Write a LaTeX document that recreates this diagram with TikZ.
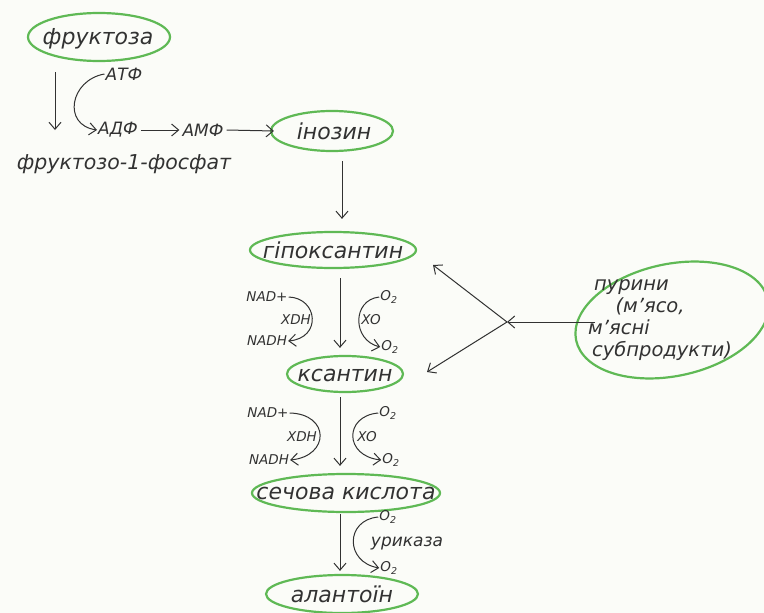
\documentclass[tikz,border=0pt]{standalone}
\usepackage{fontspec}
\setmainfont{DejaVu Sans}
\usetikzlibrary{shapes.geometric,arrows.meta}
\definecolor{ink}{RGB}{50,50,50}
\definecolor{hl}{RGB}{95,185,85}
\definecolor{paper}{RGB}{251,252,248}
\begin{document}
\begin{tikzpicture}[x=1pt,y=-1pt,
  hlring/.style={ellipse,draw=hl,line width=2.2pt,inner sep=0pt},
  hltxt/.style={text=ink,inner sep=0pt,font=\itshape\fontsize{22}{24}\selectfont},
  lbl/.style={text=ink,inner sep=1pt,font=\itshape\fontsize{17}{19}\selectfont},
  sml/.style={text=ink,inner sep=1pt,font=\itshape\fontsize{13.5}{15}\selectfont},
  arr/.style={draw=ink,line width=1pt,-{Straight Barb[length=7pt,width=12pt]}}]
\fill[paper] (0,0) rectangle (764,613);
\useasboundingbox (0,0) rectangle (764,613);

% highlighted nodes: ring + text
\node[hlring,minimum width=142pt,minimum height=48pt] (fre) at (99,37) {};
\node[hltxt] (fr) at (98,39) {фруктоза};
\node[hlring,minimum width=122pt,minimum height=40pt] (inoe) at (332,131) {};
\node[hltxt] (ino) at (334,131) {інозин};
\node[hlring,minimum width=166pt,minimum height=36pt] (hypoe) at (333,250) {};
\node[hltxt] (hypo) at (333,250) {гіпоксантин};
\node[hlring,minimum width=116pt,minimum height=36pt] (kse) at (345,374) {};
\node[hltxt] (ks) at (345,375) {ксантин};
\node[hlring,minimum width=188pt,minimum height=38pt] (ske) at (346,493) {};
\node[hltxt] (sk) at (346,493) {сечова кислота};
\node[hlring,minimum width=152pt,minimum height=38pt] (ale) at (342,594) {};
\node[hltxt] (al) at (342,594) {алантоїн};
\node[hlring,minimum width=196pt,minimum height=112pt,rotate=12] (pur) at (672,320) {};
\node[text=ink,font=\itshape\fontsize{19.5}{22}\selectfont,align=left,anchor=north west,inner sep=0pt] (purt) at (588,279)
  {\hspace*{0.3em}пурини\\\hspace*{1.4em}(м'ясо,\\м'ясні\\\hspace*{0.2em}субпродукти)};

% plain labels
\node[lbl] (atf) at (124,74) {АТФ};
\node[lbl] (adf) at (118,130) {АДФ};
\node[lbl] (amf) at (203,130) {АМФ};
\node[lbl,font=\itshape\fontsize{20.5}{22}\selectfont] (f1p) at (124,164) {фруктозо-1-фосфат};

% side labels, first enzyme step
\node[sml] (nad1) at (267,297) {NAD+};
\node[sml] (xdh1) at (296,320) {XDH};
\node[sml] (nadh1) at (267,341) {NADH};
\node[sml] (o2a) at (389,297) {O\textsubscript{2}};
\node[sml] (xo1) at (371,320) {XO};
\node[sml] (o2b) at (390,347) {O\textsubscript{2}};
% second enzyme step
\node[sml] (nad2) at (268,413) {NAD+};
\node[sml] (xdh2) at (302,437) {XDH};
\node[sml] (nadh2) at (269,460) {NADH};
\node[sml] (o2c) at (388,413) {O\textsubscript{2}};
\node[sml] (xo2) at (367,437) {XO};
\node[sml] (o2d) at (391,460) {O\textsubscript{2}};
% uricase step
\node[sml] (o2e) at (388,517) {O\textsubscript{2}};
\node[lbl] (uri) at (407,543) {уриказа};
\node[sml] (o2f) at (389,568) {O\textsubscript{2}};

% connectors
\coordinate (fs) at (55,72);
\coordinate (fe) at (55,130);
\draw[arr] (fs) -- (fe);
\draw[arr] (atf.west) .. controls (70,80) and (62,125) .. (adf.west);
\draw[arr] ([xshift=2pt]adf.east) -- ([xshift=-2pt]amf.west);
\draw[arr] ([xshift=2pt]amf.east) -- ([xshift=4pt]inoe.west);
\draw[arr] ([xshift=10pt,yshift=-9pt]inoe.south) -- ([xshift=9pt,yshift=12pt]hypoe.north);
\draw[arr] ([xshift=7pt,yshift=-9pt]hypoe.south) -- ([xshift=-5pt,yshift=7pt]kse.north);
\draw[arr] ([xshift=-5pt,yshift=-4pt]kse.south) -- ([xshift=-6pt,yshift=7pt]ske.north);
\draw[arr] ([xshift=-6pt,yshift=-1pt]ske.south) -- ([xshift=-2pt,yshift=3pt]ale.north);

\draw[arr] (nad1.east) .. controls (318,298) and (322,338) .. (nadh1.east);
\draw[arr] (o2a.west) .. controls (352,300) and (352,340) .. (o2b.west);
\draw[arr] (nad2.east) .. controls (330,414) and (330,456) .. (nadh2.east);
\draw[arr] (o2c.west) .. controls (344,416) and (344,456) .. (o2d.west);
\draw[arr] (o2e.west) .. controls (345,520) and (345,562) .. (o2f.west);

\coordinate (vx) at (507,322);
\coordinate (tup) at (433,265);
\coordinate (tdn) at (427,372);
\coordinate (ps) at (595,322);
\draw[arr] (ps) -- (vx);
\draw[arr] (vx) -- (tup);
\draw[arr] (vx) -- (tdn);
\end{tikzpicture}
\end{document}
